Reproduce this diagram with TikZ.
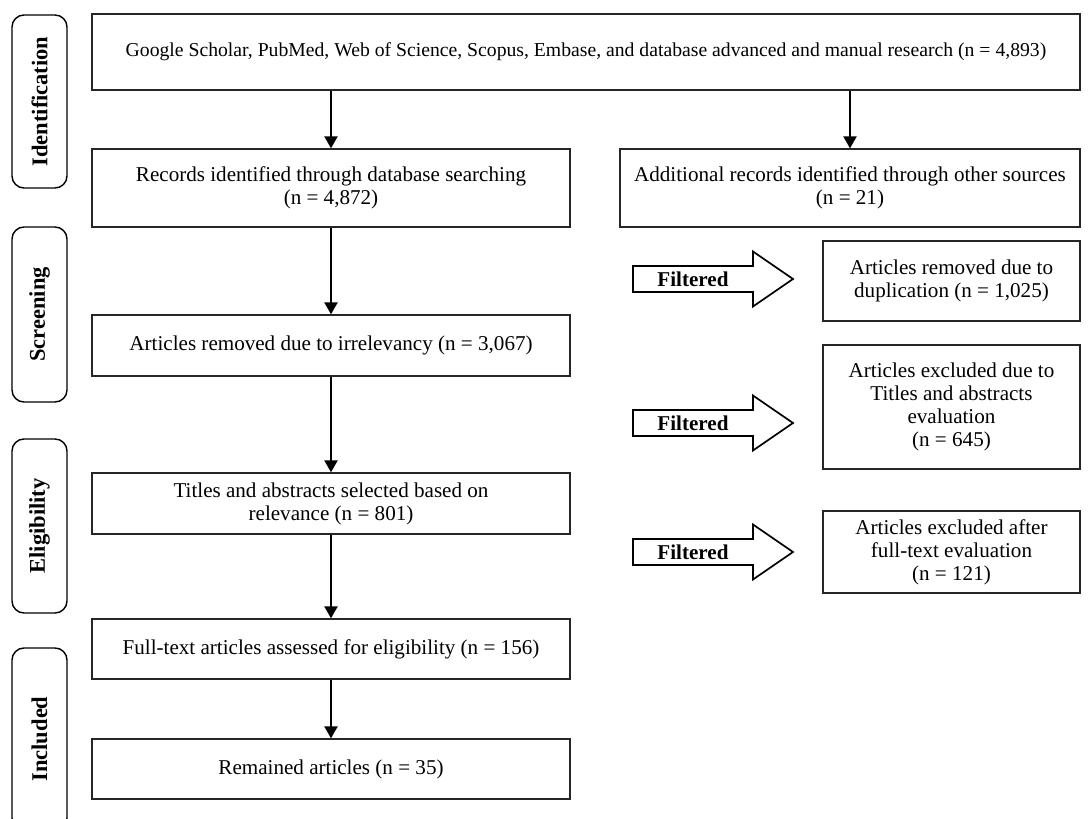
\documentclass[tikz,border=0pt]{standalone}
\usepackage{fontspec}
\setmainfont{Liberation Serif}
\usetikzlibrary{arrows.meta}
\newdimen\px \px=0.025cm

\begin{document}
\begin{tikzpicture}[x=0.025cm,y=-0.025cm]
\tikzset{box/.style={draw=black!85,line width=0.9pt,align=center,inner sep=2pt,font=\fontsize{15}{16.4}\selectfont}}
\tikzset{phase/.style={draw,line width=1pt,rounded corners=12\px,rotate=90,minimum height=55\px,font=\fontsize{16}{18}\selectfont\bfseries}}
\tikzset{flow/.style={-{Triangle[length=8.5pt,width=9.3pt]},line width=1.2pt}}
\tikzset{filtered/.style={font=\fontsize{15}{16}\selectfont\bfseries}}

\useasboundingbox (0,0) rectangle (1088,819);

% phases
\node[phase,minimum width=173\px] (ident) at (39.5,101.5) {Identification};
\node[phase,minimum width=175\px] (screen) at (39.5,314.5) {Screening};
\node[phase,minimum width=174\px] (elig) at (39.5,526) {Eligibility};
\node[phase,minimum width=182\px] (incl) at (39.5,739) {Included};

% main column
\node[box,minimum width=988\px,minimum height=76\px,font=\fontsize{14}{16}\selectfont] (search) at (586,52) {Google Scholar, PubMed, Web of Science, Scopus, Embase, and database advanced and manual research (n = 4,893)};
\node[box,minimum width=478\px,minimum height=78\px] (records) at (331,188) {Records identified through database searching\\(n = 4,872)};
\node[box,minimum width=460\px,minimum height=78\px] (other) at (850,188) {Additional records identified through other sources\\(n = 21)};
\node[box,minimum width=478\px,minimum height=61\px] (irrel) at (331,345.5) {Articles removed due to irrelevancy (n = 3,067)};
\node[box,minimum width=478\px,minimum height=61\px] (titles) at (331,503.5) {Titles and abstracts selected based on\\relevance (n = 801)};
\node[box,minimum width=478\px,minimum height=60\px] (fulltext) at (331,649) {Full-text articles assessed for eligibility (n = 156)};
\node[box,minimum width=478\px,minimum height=60\px] (remained) at (331,769) {Remained articles (n = 35)};

% excluded
\node[box,minimum width=257\px,minimum height=80\px] (dup) at (951.5,281) {Articles removed due to\\duplication (n = 1,025)};
\node[box,minimum width=257\px,minimum height=124\px] (absexcl) at (951.5,407) {Articles excluded due to\\Titles and abstracts\\evaluation\\(n = 645)};
\node[box,minimum width=257\px,minimum height=82\px] (ftexcl) at (951.5,552) {Articles excluded after\\full-text evaluation\\(n = 121)};

\draw[flow] (records.north |- search.south) -- (records);
\draw[flow] (other.north |- search.south) -- (other);
\draw[flow] (records) -- (irrel);
\draw[flow] (irrel) -- (titles);
\draw[flow] (titles) -- (fulltext);
\draw[flow] (fulltext) -- (remained);

\foreach \n/\y in {1/279,2/423,3/552}{
  \node[filtered] (filt\n) at (693,\y) {Filtered};
  \draw[line width=1.2pt] (filt\n.center) ++(-60,-13) -- ++(120,0) -- ++(0,-14.5) -- ++(40,27.5) -- ++(-40,27.5) -- ++(0,-14.5) -- ++(-120,0) -- cycle;
}

\end{tikzpicture}
\end{document}
